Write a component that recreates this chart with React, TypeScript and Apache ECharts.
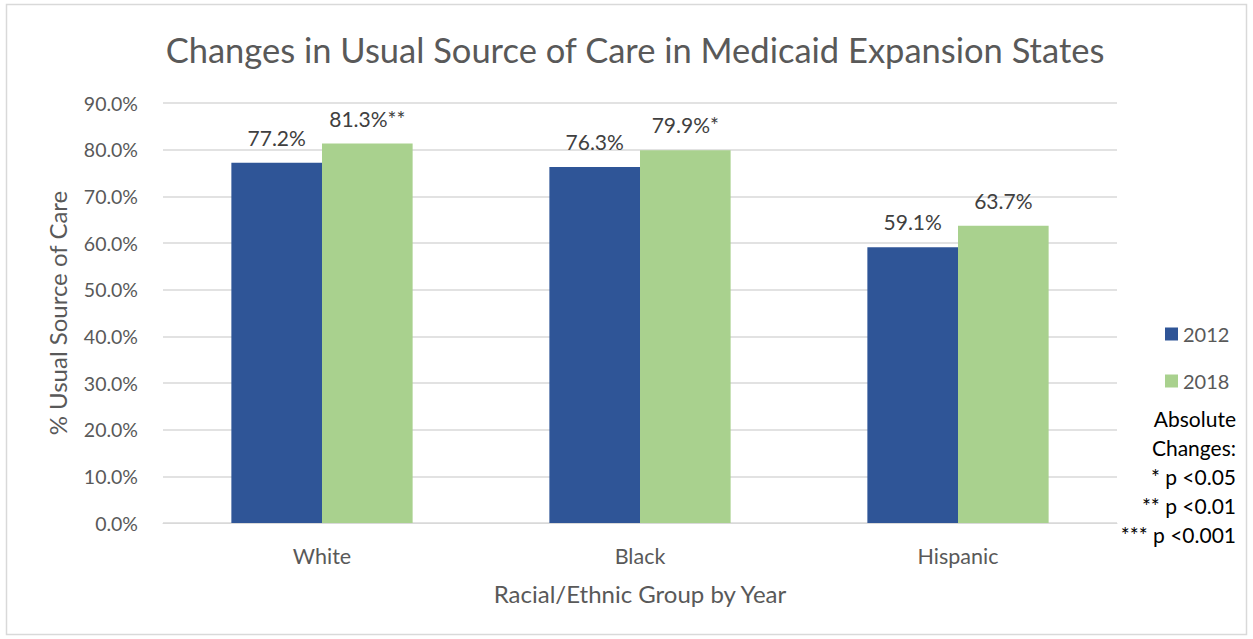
import React, { useEffect, useRef } from "react";
import * as echarts from "echarts";

const categories = ["White", "Black", "Hispanic"];
const values2012 = [77.2, 76.3, 59.1];
const values2018 = [81.3, 79.9, 63.7];
const sig2012 = ["", "", ""];
const sig2018 = ["**", "*", ""];
const notes = ["Absolute", "Changes:", "* p <0.05", "** p <0.01", "*** p <0.001"];

const FONT = "Lato, 'Open Sans', sans-serif";
const TXT = "#595959";

export default function App() {
  const ref = useRef<HTMLDivElement>(null);
  useEffect(() => {
    document.body.style.margin = "0";
    const chart = echarts.init(ref.current!, null, { renderer: "svg" });
    const lbl = (sig: string[]) => ({
      show: true,
      position: "top",
      distance: 15,
      fontFamily: FONT,
      fontSize: 21,
      color: "#404040",
      formatter: (p: any) => p.value.toFixed(1) + "%" + sig[p.dataIndex],
    });
    chart.setOption({
      animation: false,
      textStyle: { fontFamily: FONT },
      title: {
        text: "Changes in Usual Source of Care in Medicaid Expansion States",
        left: 630,
        textAlign: "center",
        top: 27,
        textStyle: { fontFamily: FONT, fontSize: 34.5, fontWeight: "normal", color: TXT },
      },
      grid: { left: 163, right: 136, top: 103, bottom: 116 },
      legend: {
        orient: "vertical",
        left: 1160,
        top: 319,
        itemWidth: 13,
        itemHeight: 13,
        itemGap: 27,
        icon: "rect",
        textStyle: { fontFamily: FONT, fontSize: 20, color: TXT },
        data: ["2012", "2018"],
      },
      xAxis: {
        type: "category",
        data: categories,
        name: "Racial/Ethnic Group by Year",
        nameLocation: "middle",
        nameGap: 58,
        nameTextStyle: { fontFamily: FONT, fontSize: 24, color: TXT },
        axisLine: { lineStyle: { color: "#d9d9d9" } },
        axisTick: { show: false },
        axisLabel: { fontFamily: FONT, fontSize: 21.5, color: TXT, margin: 22 },
      },
      yAxis: {
        type: "value",
        min: 0,
        max: 90,
        interval: 10,
        name: "% Usual Source of Care",
        nameLocation: "middle",
        nameGap: 94,
        nameTextStyle: { fontFamily: FONT, fontSize: 24, color: TXT },
        axisLine: { show: false },
        axisTick: { show: false },
        splitLine: { lineStyle: { color: "#d9d9d9", width: 1.5 } },
        axisLabel: {
          fontFamily: FONT,
          fontSize: 19.5,
          color: TXT,
          margin: 25,
          formatter: (v: number) => v.toFixed(1) + "%",
        },
      },
      series: [
        {
          name: "2012",
          type: "bar",
          data: values2012,
          itemStyle: { color: "#2F5597" },
          barGap: "0%",
          barCategoryGap: "43%",
          label: lbl(sig2012),
        },
        {
          name: "2018",
          type: "bar",
          data: values2018,
          itemStyle: { color: "#A9D18E" },
          label: lbl(sig2018),
        },
      ],
      graphic: [
        {
          type: "rect",
          shape: { x: 6.5, y: 4.5, width: 1240, height: 630 },
          style: { fill: "none", stroke: "#d9d9d9", lineWidth: 1.5 },
          silent: true,
        },
        ...notes.map((t, i) => ({
          type: "text",
          x: 1236,
          y: 418 + i * 29.2,
          style: {
            text: t,
            fontFamily: FONT,
            fontSize: 21,
            fill: "#000000",
            textAlign: "right",
            textVerticalAlign: "middle",
          },
        })),
      ],
    });
    return () => chart.dispose();
  }, []);
  return <div ref={ref} style={{ width: 1253, height: 639 }} />;
}
